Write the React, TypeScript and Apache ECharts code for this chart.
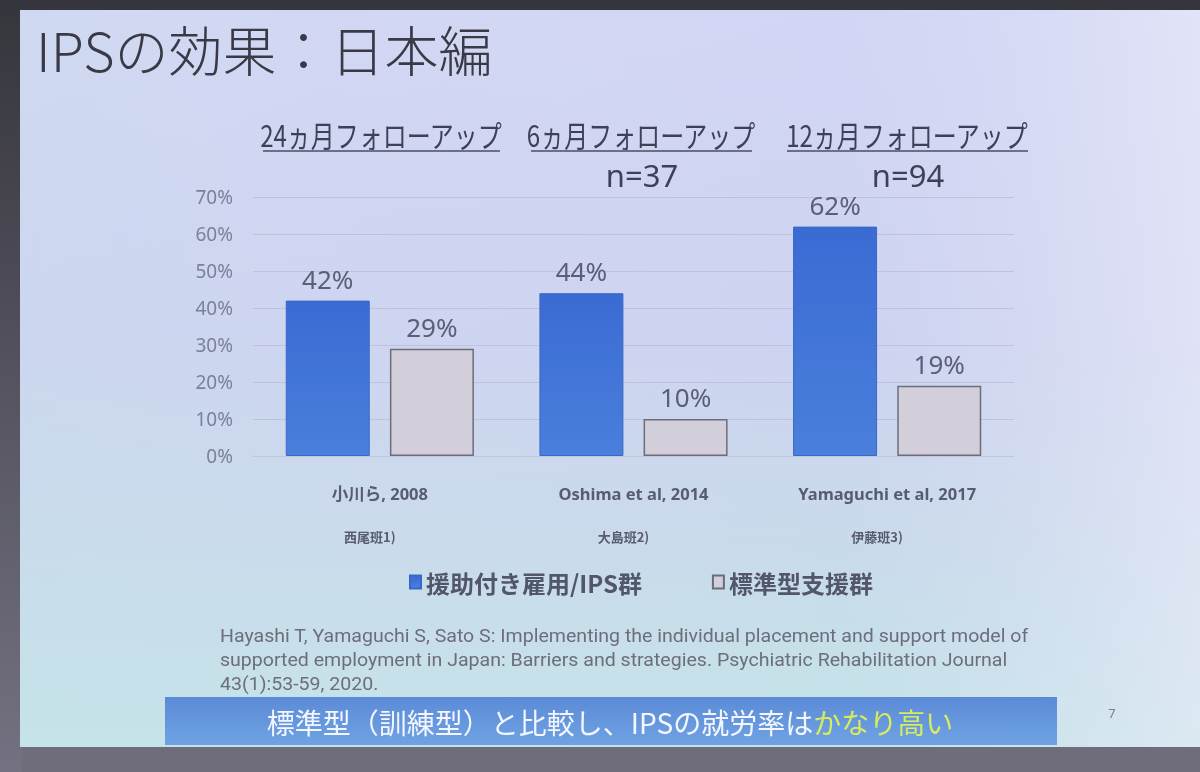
import React, { useEffect, useRef } from "react";
import * as echarts from "echarts";

const studies = ["小川ら, 2008", "Oshima et al, 2014", "Yamaguchi et al, 2017"];
const teams = ["西尾班1)", "大島班2)", "伊藤班3)"];
const headers = ["24ヵ月フォローアップ", "6ヵ月フォローアップ", "12ヵ月フォローアップ"];
const sampleSizes = ["", "n=37", "n=94"];
const seriesNames = ["援助付き雇用/IPS群", "標準型支援群"];
const ipsValues = [42, 44, 62];
const standardValues = [29, 10, 19];
const citation = [
  "Hayashi T, Yamaguchi S, Sato S: Implementing the individual placement and support model of",
  "supported employment in Japan: Barriers and strategies. Psychiatric Rehabilitation Journal",
  "43(1):53-59, 2020.",
];
const title = "IPSの効果：日本編";
const bannerMain = "標準型（訓練型）と比較し、IPSの就労率は";
const bannerEmph = "かなり高い";

const JP = '"Noto Sans CJK JP", "Noto Sans", sans-serif';

// header layout: centre x and underline extents
const headerLayout = [
  { cx: 381, x1: 263, x2: 500 },
  { cx: 641, x1: 531, x2: 752 },
  { cx: 907, x1: 787, x2: 1028 },
];

export default function App() {
  const ref = useRef<HTMLDivElement>(null);
  useEffect(() => {
    if (!ref.current) return;
    const chart = echarts.init(ref.current, undefined, { renderer: "svg" });

    const graphics: any[] = [
      // photo borders
      { type: "rect", z: -10, shape: { x: 0, y: 0, width: 1200, height: 772 }, style: { fill: "#6f6d7b" } },
      {
        type: "rect", z: -9, shape: { x: 0, y: 0, width: 22, height: 772 },
        style: { fill: new echarts.graphic.LinearGradient(0, 0, 0, 1, [
          { offset: 0, color: "#35353c" }, { offset: 1, color: "#747282" },
        ]) },
      },
      { type: "rect", z: -9, shape: { x: 0, y: 0, width: 1200, height: 10 }, style: { fill: "#34353d" } },
      // slide background
      {
        type: "rect", z: -8, shape: { x: 20, y: 10, width: 1180, height: 737 },
        style: { fill: new echarts.graphic.LinearGradient(0, 0, 0, 1, [
          { offset: 0, color: "#d2d6f4" },
          { offset: 0.45, color: "#cdd3f0" },
          { offset: 0.75, color: "#c8dbea" },
          { offset: 1, color: "#c4e4e8" },
        ]) },
      },
      {
        type: "rect", z: -7, shape: { x: 20, y: 10, width: 1180, height: 737 },
        style: { fill: new echarts.graphic.LinearGradient(0, 0, 1, 0, [
          { offset: 0, color: "rgba(200,225,235,0.25)" },
          { offset: 0.7, color: "rgba(220,222,245,0)" },
          { offset: 1, color: "rgba(236,236,250,0.6)" },
        ]) },
      },
      // title
      {
        type: "text", x: 36, y: 48,
        style: { text: title, fontFamily: JP, fontSize: 54, fontWeight: 300, fill: "#3a3a46", textVerticalAlign: "middle" },
      },
      // citation
      ...citation.map((t, i) => ({
        type: "text", x: 220, y: 636 + i * 24, scaleX: 1.03,
        style: { text: t, fontFamily: "Roboto, sans-serif", fontSize: 19, fill: "#6c6e7a", textVerticalAlign: "middle" },
      })),
      // banner
      {
        type: "rect", shape: { x: 165, y: 697, width: 892, height: 48 },
        style: { fill: new echarts.graphic.LinearGradient(0, 0, 0, 1, [
          { offset: 0, color: "#5b8bd6" }, { offset: 1, color: "#6fa2e4" },
        ]) },
      },
      {
        type: "text", x: 610, y: 722,
        style: {
          text: `{m|${bannerMain}}{e|${bannerEmph}}`,
          textAlign: "center", textVerticalAlign: "middle",
          rich: {
            m: { fontFamily: JP, fontSize: 28, fill: "#f4f6ff", color: "#f4f6ff" } as any,
            e: { fontFamily: JP, fontSize: 28, fill: "#d8ea5e", color: "#d8ea5e" } as any,
          },
        },
      },
      {
        type: "text", x: 1112, y: 713,
        style: { text: "7", fontFamily: "Noto Sans, sans-serif", fontSize: 13, fill: "#7a7c88", textAlign: "center", textVerticalAlign: "middle" },
      },
    ];

    headers.forEach((h, i) => {
      const L = headerLayout[i];
      graphics.push({
        type: "text", x: L.cx, y: 134, scaleX: 0.8,
        style: { text: h, fontFamily: JP, fontSize: 30, fill: "#3e4058", textAlign: "center", textVerticalAlign: "middle" },
      });
      graphics.push({
        type: "line", shape: { x1: L.x1, y1: 151, x2: L.x2, y2: 151 },
        style: { stroke: "#4a4c64", lineWidth: 1.5 },
      });
      if (sampleSizes[i]) {
        graphics.push({
          type: "text", x: L.cx + 1, y: 175,
          style: { text: sampleSizes[i], fontFamily: "Noto Sans, sans-serif", fontSize: 31, fill: "#3e4058", textAlign: "center", textVerticalAlign: "middle" },
        });
      }
    });

    chart.setOption({
      animation: false,
      backgroundColor: "transparent",
      grid: { left: 253, right: 186, top: 197, bottom: 316, containLabel: false },
      legend: {
        left: 404, top: 565, itemWidth: 11, itemHeight: 13, itemGap: 70,
        icon: "rect",
        textStyle: { fontFamily: JP, fontSize: 24, fontWeight: "bold", color: "#52566c", padding: [0, 0, 0, 0] },
        data: seriesNames,
      },
      xAxis: {
        type: "category",
        data: studies,
        axisLine: { show: true, lineStyle: { color: "#c2c5dc", width: 1 } },
        axisTick: { show: false },
        axisLabel: {
          margin: 16,
          formatter: (v: string, i: number) => `{a|${v}}\n{b|${teams[i]}}`,
          rich: {
            a: { fontFamily: '"Noto Sans", "Noto Sans CJK JP", sans-serif', fontSize: 16.5, fontWeight: "bold", color: "#585c70", lineHeight: 43 },
            b: { fontFamily: '"Noto Sans CJK JP", sans-serif', fontSize: 13, fontWeight: "bold", color: "#585c70", lineHeight: 43, padding: [0, 20, 0, 0] },
          },
        },
      },
      yAxis: {
        type: "value", min: 0, max: 70, interval: 10,
        axisLine: { show: false }, axisTick: { show: false },
        splitLine: { lineStyle: { color: "#bfc2da", width: 1 } },
        axisLabel: { formatter: "{value}%", fontFamily: '"Noto Sans", sans-serif', fontSize: 19, color: "#7c809a", margin: 20 },
      },
      series: [
        {
          name: seriesNames[0], type: "bar", data: ipsValues, barWidth: 84, barGap: "24%",
          itemStyle: {
            color: new echarts.graphic.LinearGradient(0, 0, 0, 1, [
              { offset: 0, color: "#3a6bd3" }, { offset: 1, color: "#4a7fdc" },
            ]),
            borderColor: "#3a68c8", borderWidth: 1,
          },
          label: { show: true, position: "top", distance: 9, formatter: "{c}%", fontFamily: '"Noto Sans", sans-serif', fontSize: 26, color: "#5a5e76" },
        },
        {
          name: seriesNames[1], type: "bar", data: standardValues, barWidth: 84,
          itemStyle: { color: "#d2cfda", borderColor: "#6c6c7c", borderWidth: 1.5 },
          label: { show: true, position: "top", distance: 9, formatter: "{c}%", fontFamily: '"Noto Sans", sans-serif', fontSize: 26, color: "#5a5e76" },
        },
      ],
      graphic: graphics,
    });

    return () => chart.dispose();
  }, []);

  return <div ref={ref} style={{ position: "fixed", left: 0, top: 0, width: 1200, height: 772 }} />;
}
